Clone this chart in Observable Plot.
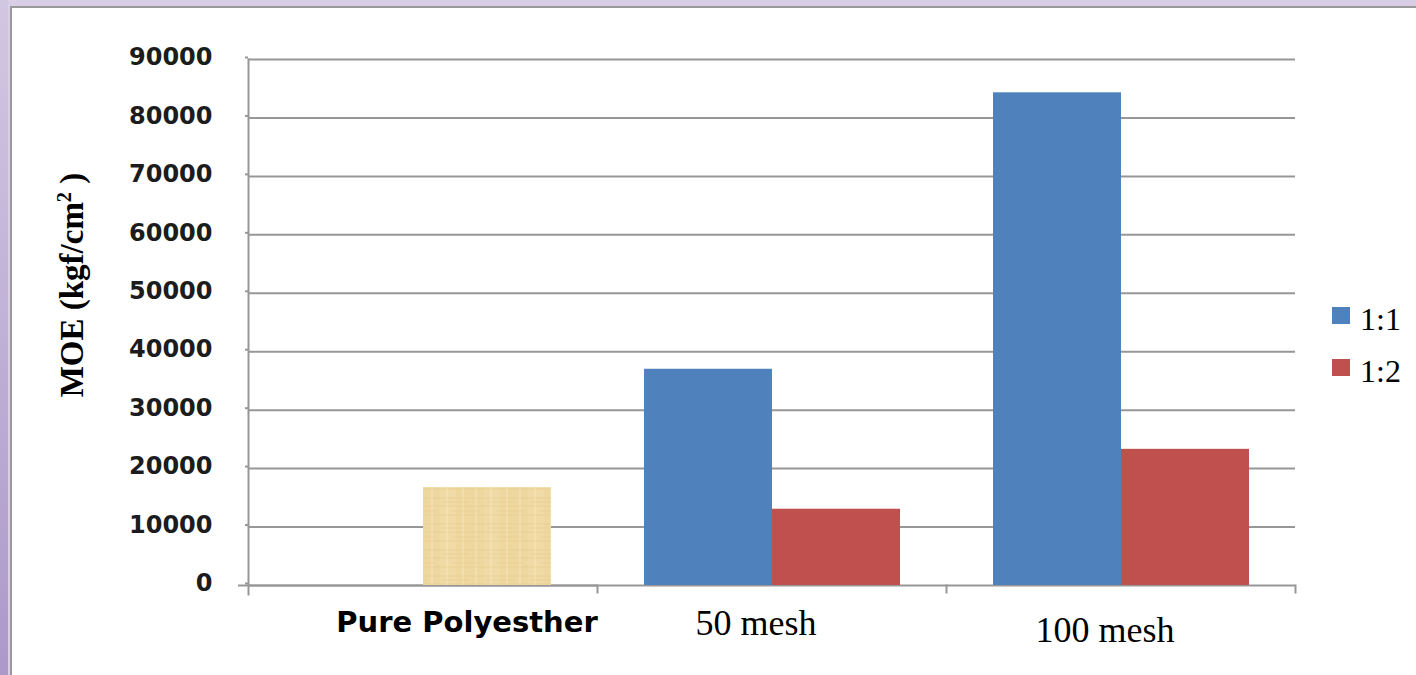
<!DOCTYPE html>
<html>
<head>
<meta charset="utf-8">
<script src="https://cdn.jsdelivr.net/npm/d3@7"></script>
<script src="https://cdn.jsdelivr.net/npm/@observablehq/plot@0.6"></script>
<style>
  html, body { margin: 0; padding: 0; width: 1416px; height: 675px; overflow: hidden; background: #d8cfe6; }
  #strip { position: absolute; left: 0; top: 0; width: 8px; height: 675px; background: linear-gradient(#d2c7e2, #ad99c9); }
  #box { position: absolute; left: 10px; top: 6px; width: 1420px; height: 680px; background: #fff;
         border-left: 2px solid #9a9a9a; border-top: 2px solid #9a9a9a; }
  #chart { position: absolute; left: 0; top: 0; }
  #ylabel { position: absolute; left: 72px; top: 285px; transform: translate(-50%, -50%) rotate(-90deg);
            font: bold 33px "Liberation Serif"; white-space: nowrap; color: #000; }
  #ylabel sup { font-size: 0.62em; }
  .sw { position: absolute; width: 18px; height: 17px; }
  .lt { position: absolute; font: 32px "Liberation Serif"; color: #000; line-height: 1; }
</style>
</head>
<body>
<svg width="0" height="0" style="position:absolute">
  <defs>
    <pattern id="papyrus" patternUnits="userSpaceOnUse" width="44" height="26">
      <rect width="44" height="26" fill="#efd8a0"/>
      <rect x="0" y="0" width="16" height="26" fill="#f2dea9" opacity="0.7"/>
      <path d="M0 4H44M0 12H44M0 21H44" stroke="#e2c584" stroke-width="1" opacity="0.5"/>
      <path d="M7 0V26M23 0V26M36 0V26" stroke="#f7e8c3" stroke-width="1.5" opacity="0.5"/>
      <path d="M2 8H30M12 17H40" stroke="#d9ba78" stroke-width="0.8" opacity="0.4"/>
    </pattern>
  </defs>
</svg>
<div id="strip"></div>
<div id="box"></div>
<div id="chart"></div>
<div id="ylabel">MOE (kgf/cm<sup>2</sup> )</div>
<div class="sw" style="left:1332px; top:307px; background:#4f81bd;"></div>
<div class="lt" style="left:1360px; top:303px;">1:1</div>
<div class="sw" style="left:1332px; top:359px; background:#c0504d;"></div>
<div class="lt" style="left:1360px; top:355px;">1:2</div>
<script>
const categories = ["Pure Polyesther", "50 mesh", "100 mesh"];
const seriesNames = ["1:1", "1:2"];
const moe11 = [null, 37000, 84300];
const moe12 = [16750, 13050, 23300];
const yTicks = [0, 10000, 20000, 30000, 40000, 50000, 60000, 70000, 80000, 90000];
const seriesColors = ["#4f81bd", "#c0504d"];

const rows = [];
categories.forEach((c, i) => {
  if (moe11[i] != null) rows.push({cat: c, series: seriesNames[0], value: moe11[i]});
  if (moe12[i] != null) rows.push({cat: c, series: seriesNames[1], value: moe12[i]});
});
const pureRows = rows.filter(d => d.cat === categories[0]);
const meshRows = rows.filter(d => d.cat !== categories[0]);

const W = 1416, H = 675, mt = 59, mb = 90, ml = 248, mr = 121;
const grid = "#979797";

const chart = Plot.plot({
  width: W, height: H,
  marginTop: mt, marginBottom: mb, marginLeft: ml, marginRight: mr,
  style: {background: "transparent", overflow: "visible"},
  fx: {domain: categories, padding: 0, axis: null},
  x: {domain: seriesNames, paddingInner: 0, paddingOuter: 0.358, axis: null},
  y: {domain: [0, 90000], axis: null},
  color: {domain: seriesNames, range: seriesColors},
  marks: [
    Plot.gridY(yTicks, {stroke: grid, strokeOpacity: 1, strokeWidth: 2}),
    Plot.frame({anchor: "left", facetAnchor: "left", stroke: grid, strokeWidth: 2, insetBottom: -9}),
    Plot.frame({anchor: "right", stroke: grid, strokeWidth: 2, insetTop: H - mt - mb, insetBottom: -7}),
    Plot.ruleY([0], {facetAnchor: "left", stroke: grid, strokeWidth: 2, insetLeft: -10}),
    Plot.axisY(yTicks, {label: null, tickSize: 3, tickPadding: 33, stroke: grid, strokeWidth: 2,
      fontFamily: "DejaVu Sans", fontWeight: "bold", fontSize: 24, fill: "#1c1c1c", dy: -2,
      tickFormat: d => String(d)}),
    Plot.barY(meshRows, {fx: "cat", x: "series", y: "value", fill: "series"}),
    Plot.barY(pureRows, {fx: "cat", x: "series", y: "value", fill: "url(#papyrus)"}),
    Plot.text([categories[0]], {fx: d => d, text: d => d, frameAnchor: "bottom", lineAnchor: "bottom",
      dx: 44, dy: 46, fontFamily: "DejaVu Sans", fontWeight: "bold", fontSize: 29, fill: "#000"}),
    Plot.text([categories[1]], {fx: d => d, text: d => d, frameAnchor: "bottom", lineAnchor: "bottom",
      dx: -16, dy: 49, fontFamily: "Liberation Serif", fontSize: 36, fill: "#000"}),
    Plot.text([categories[2]], {fx: d => d, text: d => d, frameAnchor: "bottom", lineAnchor: "bottom",
      dx: -16, dy: 56, fontFamily: "Liberation Serif", fontSize: 36, fill: "#000"})
  ]
});
document.getElementById("chart").appendChild(chart);
</script>
</body>
</html>
